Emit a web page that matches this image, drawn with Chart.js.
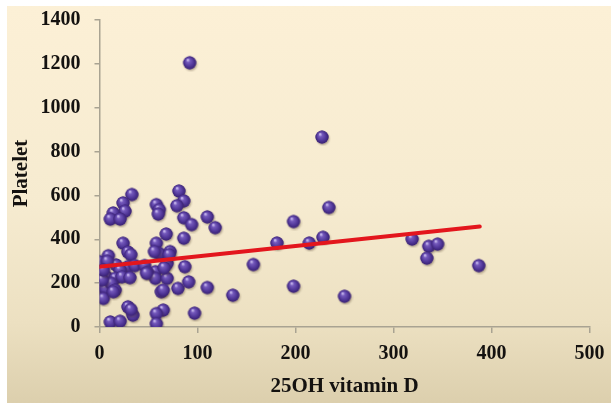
<!DOCTYPE html>
<html>
<head>
<meta charset="utf-8">
<script src="https://cdn.jsdelivr.net/npm/chart.js@4"></script>
<style>
  html, body { margin: 0; padding: 0; background: #fff; }
  #wrap { position: absolute; left: 7px; top: 6px; width: 604px; height: 397px; }
</style>
</head>
<body>
<div id="wrap"><canvas id="chart" width="604" height="397"></canvas></div>
<script>
// values
var vitD = [
  92, 227, 234, 198, 181, 214, 228, 319, 336, 345, 334, 387, 157, 198, 250, 136, 110, 97,
  33, 24, 26, 14, 11, 21, 58, 61, 60, 81, 86, 79, 86, 94, 110, 118,
  68, 86, 24, 58, 29, 32, 9, 61, 72, 56, 0, 17, 29, 36, 46, 87, 69, 57, 49, 21,
  0, 7, 16, 23, 31, 57, 69, 0, 6, 12, 16, 4, 48, 63, 80, 91, 65, 14, 3,
  29, 34, 65, 58, 58, 11, 21, 32, 8, 4, 66, 71
];
var platelet = [
  1205, 866, 545, 481, 383, 383, 409, 401, 368, 378, 314, 280, 285, 186, 140, 145, 180, 63,
  604, 566, 528, 520, 492, 492, 558, 535, 515, 620, 575, 553, 498, 467, 502, 453,
  424, 405, 382, 382, 342, 330, 325, 335, 344, 344, 298, 283, 275, 280, 280, 275, 290, 252, 249, 260,
  237, 229, 222, 229, 225, 222, 222, 184, 176, 199, 168, 130, 245, 161, 176, 206, 168, 161, 215,
  92, 54, 77, 61, 15, 23, 26, 80, 300, 260, 270, 330
];
var trendX = [0, 388];
var trendY = [275, 458];
var xTicks = [0, 100, 200, 300, 400, 500];
var yTicks = [0, 200, 400, 600, 800, 1000, 1200, 1400];

// little purple ball used as point style
function makeBall() {
  var c = document.createElement('canvas');
  c.width = 18; c.height = 18;
  var g = c.getContext('2d');
  g.save();
  g.shadowColor = 'rgba(60,40,20,0.35)';
  g.shadowBlur = 2;
  g.shadowOffsetX = 1;
  g.shadowOffsetY = 1.5;
  g.beginPath();
  g.arc(9, 9, 6.5, 0, Math.PI * 2);
  g.fillStyle = '#4a2f8e';
  g.fill();
  g.restore();
  var grad = g.createRadialGradient(7, 6, 0.5, 9, 9, 6.5);
  grad.addColorStop(0, '#c8b9ee');
  grad.addColorStop(0.25, '#7459bc');
  grad.addColorStop(0.7, '#4f3596');
  grad.addColorStop(1, '#392172');
  g.beginPath();
  g.arc(9, 9, 6.5, 0, Math.PI * 2);
  g.fillStyle = grad;
  g.fill();
  return c;
}

var points = vitD.map(function (v, i) { return { x: v, y: platelet[i] }; });
var trend = trendX.map(function (v, i) { return { x: v, y: trendY[i] }; });

var bgPlugin = {
  id: 'bg',
  beforeDraw: function (chart) {
    var ctx = chart.ctx;
    var h = chart.height;
    var gr = ctx.createLinearGradient(0, 0, 0, h);
    gr.addColorStop(0, '#fcf0d6');
    gr.addColorStop(0.5, '#f6ebd0');
    gr.addColorStop(0.8, '#ece0c1');
    gr.addColorStop(1, '#dccfad');
    ctx.save();
    ctx.fillStyle = gr;
    ctx.fillRect(0, 0, chart.width, h);
    ctx.restore();
  }
};

var font = { family: "'Liberation Serif', 'Times New Roman', serif", weight: 'bold' };
var axisColor = '#a9a392';
var plain = function (v) { return String(v); };

new Chart(document.getElementById('chart'), {
  type: 'scatter',
  data: {
    datasets: [
      {
        type: 'line',
        data: trend,
        borderColor: '#e3161d',
        borderWidth: 4,
        borderCapStyle: 'round',
        pointRadius: 0,
        fill: false,
        order: 0
      },
      {
        data: points,
        pointStyle: makeBall(),
        pointRadius: 7,
        order: 1
      }
    ]
  },
  plugins: [bgPlugin],
  options: {
    responsive: false,
    animation: false,
    layout: { padding: { left: 0, right: 21.5, top: 14, bottom: 0 } },
    plugins: { legend: { display: false }, tooltip: { enabled: false } },
    scales: {
      x: {
        type: 'linear',
        min: 0, max: 500,
        afterBuildTicks: function (s) { s.ticks = xTicks.map(function (v) { return { value: v }; }); },
        afterFit: function (s) { s.height = 76; s.paddingLeft = 0; s.paddingRight = 0; },
        grid: { drawOnChartArea: false, color: axisColor, tickLength: 6, lineWidth: 1.5 },
        border: { color: axisColor, width: 1.5 },
        ticks: { color: '#141210', padding: 9, maxRotation: 0, callback: plain, font: Object.assign({ size: 20 }, font) },
        title: {
          display: true, text: '25OH vitamin D', color: '#141210',
          padding: { top: 4, bottom: 4 },
          font: Object.assign({ size: 21 }, font)
        }
      },
      y: {
        type: 'linear',
        min: 0, max: 1400,
        afterBuildTicks: function (s) { s.ticks = yTicks.map(function (v) { return { value: v }; }); },
        afterFit: function (s) { s.width = 92.5; s.paddingTop = 0; s.paddingBottom = 0; },
        grid: { drawOnChartArea: false, color: axisColor, tickLength: 5, lineWidth: 1.5 },
        border: { color: axisColor, width: 1.5 },
        ticks: { color: '#141210', padding: 14, callback: plain, font: Object.assign({ size: 20 }, font) },
        title: {
          display: true, text: 'Platelet', color: '#141210',
          padding: { top: 2, bottom: 4 },
          font: Object.assign({ size: 21 }, font)
        }
      }
    }
  }
});
</script>
</body>
</html>
